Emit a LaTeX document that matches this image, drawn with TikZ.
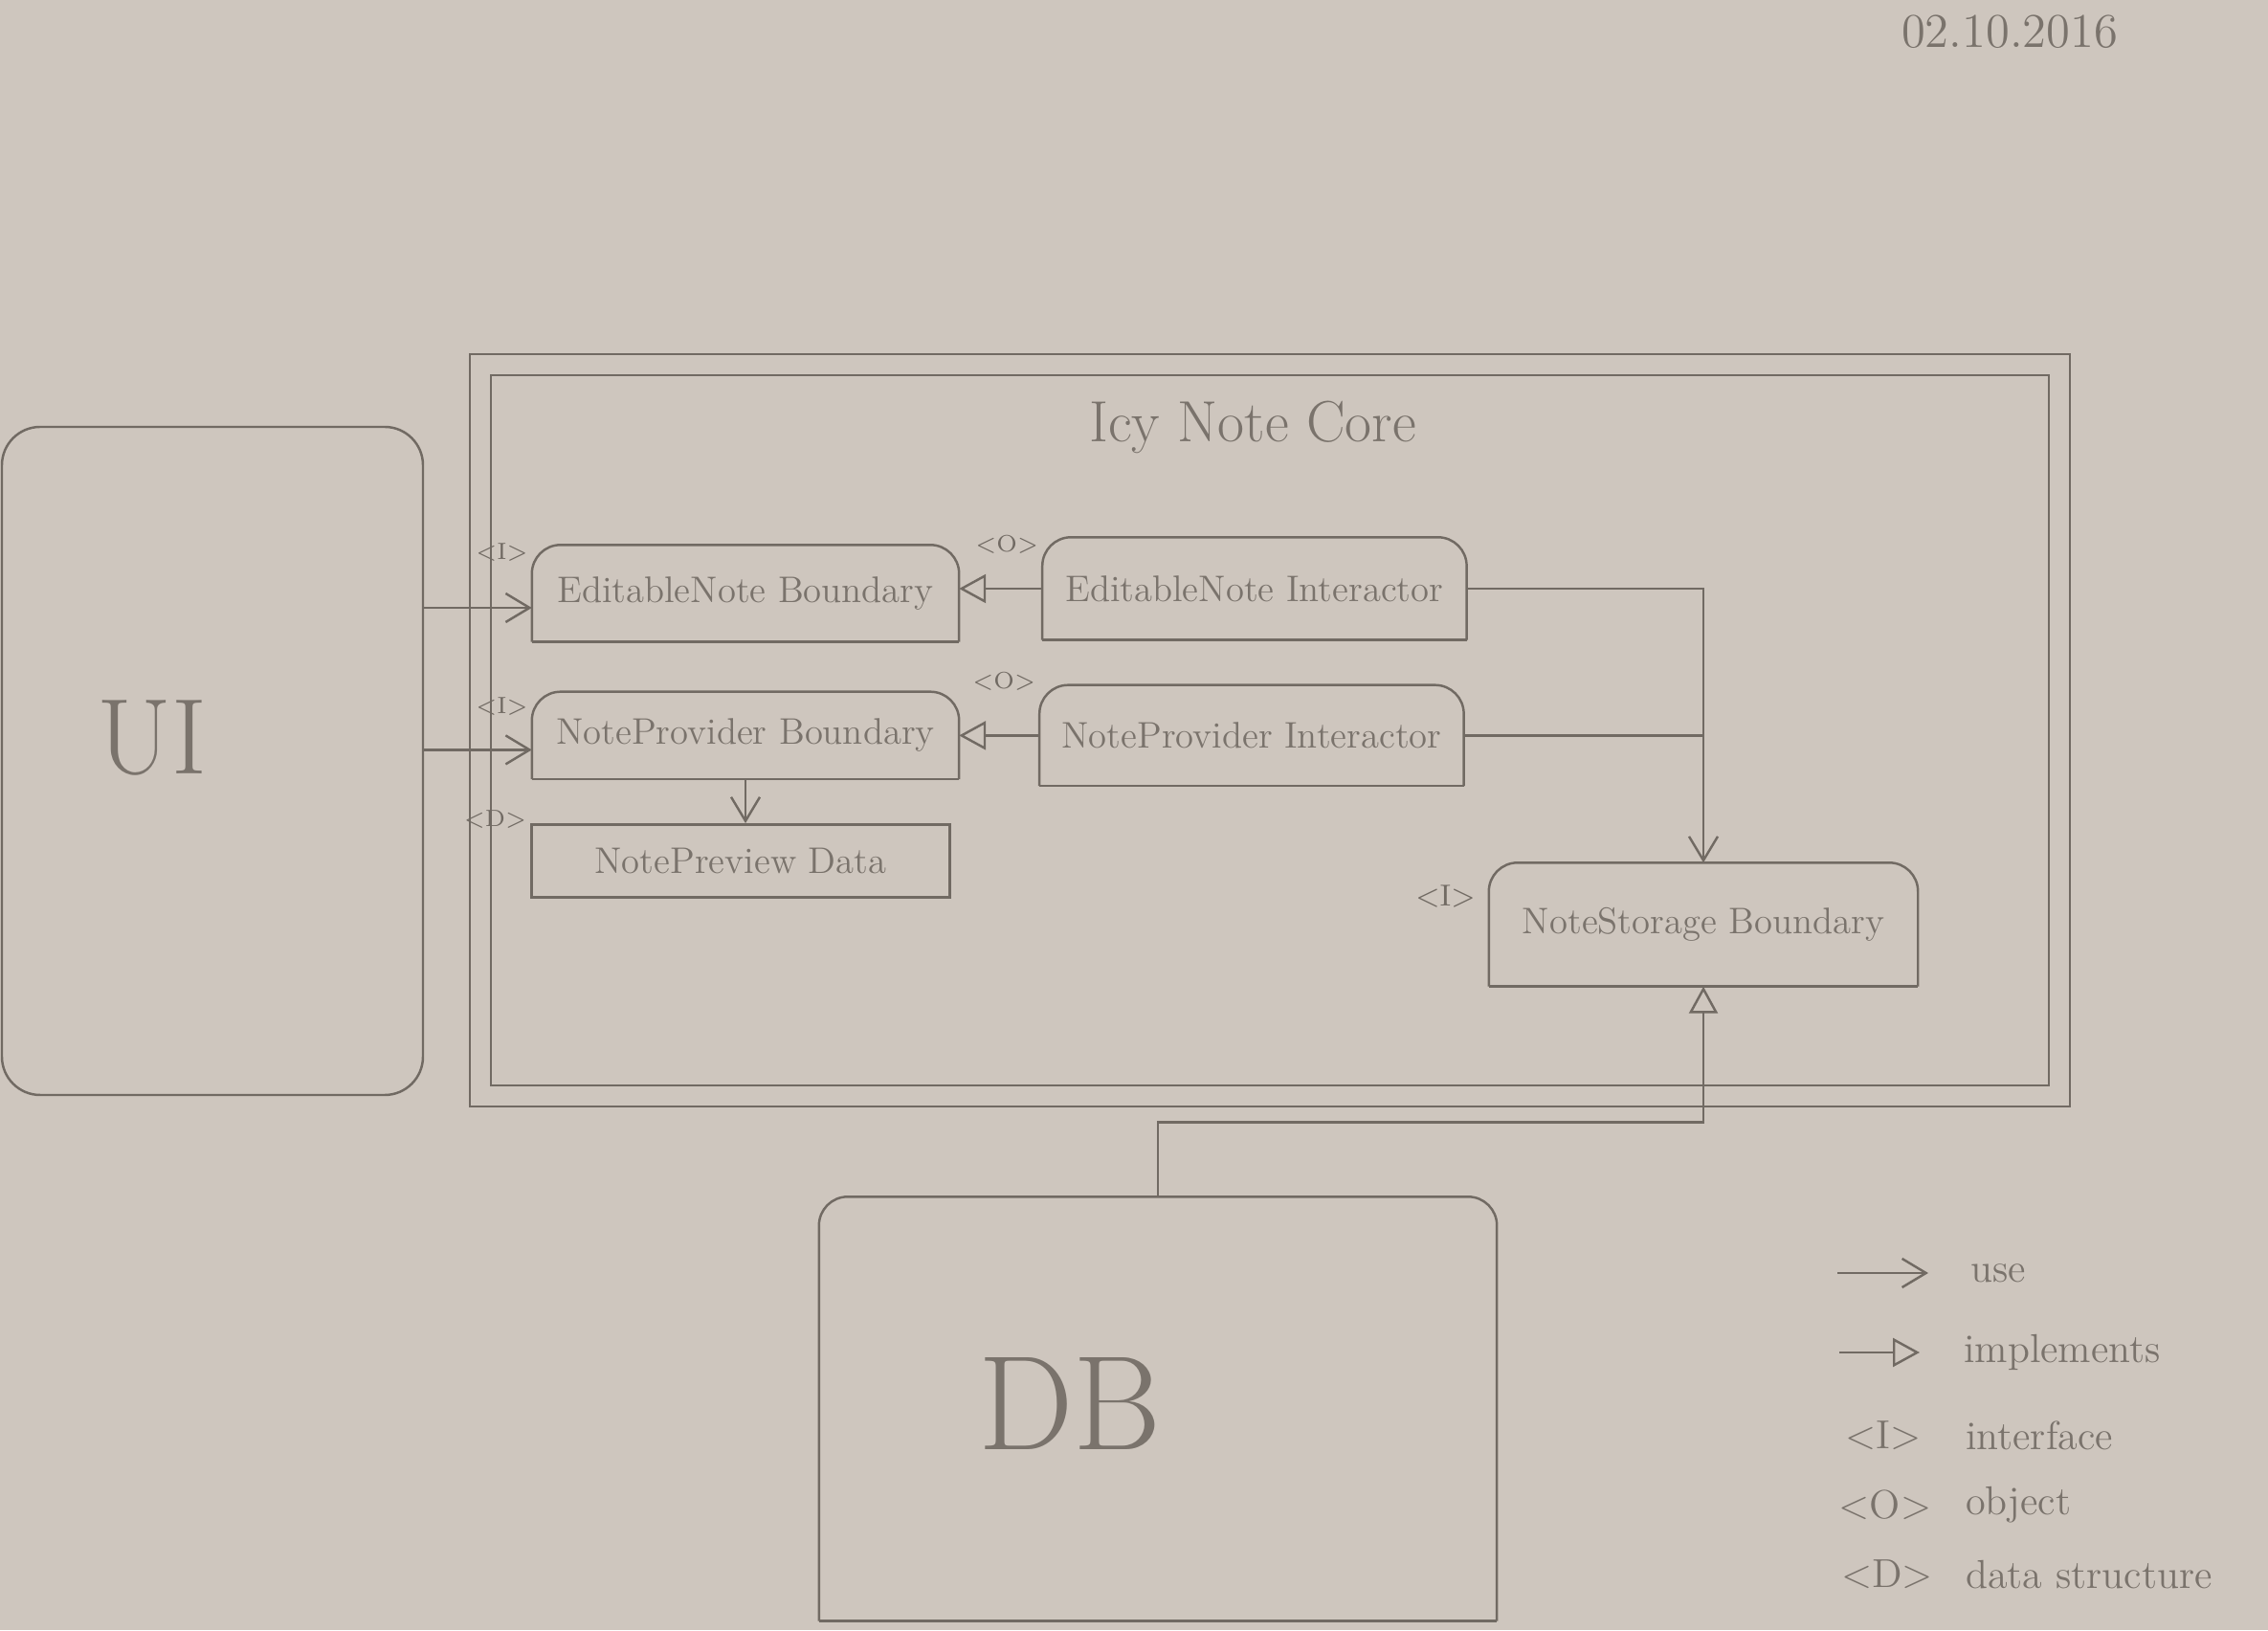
\documentclass[tikz,border=0pt]{standalone}
\usepackage{xcolor}
\usepackage{tikz}
\usetikzlibrary{
  arrows.meta,
  positioning,
  calc
}
\definecolor{icPaper}{HTML}{CEC6BE}
\definecolor{icPencil}{HTML}{716A63}
\definecolor{icText}{HTML}{7A736C}
\tikzset{
  icline/.style={draw=icPencil, line width=0.7pt},
  icnode/.style={
    minimum width=44mm, minimum height=10mm, inner sep=0pt,
    font=\fontsize{11}{13}\selectfont, text=icText, align=center
  },
  icbox/.style={icnode,
    append after command={\pgfextra{
      \draw[icline, rounded corners=3mm] (\tikzlastnode.south west) -- (\tikzlastnode.north west)
        -- (\tikzlastnode.north east) -- (\tikzlastnode.south east);
      \draw[icline] (\tikzlastnode.south west) -- (\tikzlastnode.south east);}}
  },
  icdata/.style={icnode, icline},
  icside/.style={icline, rounded corners=4mm, text=icText},
  corebox/.style={icline, double=icPaper, double distance=2mm},
  stereo/.style={font=\scriptsize, text=icPencil, inner sep=1pt},
  usearrow/.style={icline, -{Straight Barb[length=2.5mm, width=3mm]}},
  implarrow/.style={icline, -{Triangle[open, length=2.8mm, width=3mm]}},
  legend/.style={font=\large, text=icText, inner sep=1pt}
}
\begin{document}
\begin{tikzpicture}
  \fill[icPaper] (0,0) rectangle (23.7,17.03);
  \useasboundingbox (0,0) rectangle (23.7,17.03);

  % date
  \node[legend, font=\Large] (date) at (21.0,16.70) {02.10.2016};

  % outside parts
  \node[icside, draw, minimum width=44mm, minimum height=69.8mm] (ui) at (2.22,9.08) {};
  \node[text=icText, font=\fontsize{32}{36}\selectfont] (uilbl) at (1.59,9.32) {UI};
  \node[icbox, minimum width=70.7mm, minimum height=44.2mm] (db) at (12.10,2.31) {};
  \node[text=icText, font=\fontsize{40}{44}\selectfont] (dblbl) at (11.18,2.37) {DB};

  % core
  \node[corebox, minimum width=165mm, minimum height=76.4mm] (core) at (13.27,9.40) {};
  \node[text=icText, font=\LARGE] (coretitle) at (13.09,12.57) {Icy Note Core};

  \node[icbox, minimum width=44.5mm, minimum height=10mm] (ebnd) at (7.79,10.83) {EditableNote Boundary};
  \node[icbox, minimum width=44.2mm, minimum height=10.6mm, right=8.7mm of ebnd, yshift=0.5mm] (eint) {EditableNote Interactor};
  \node[icbox, minimum width=44.5mm, minimum height=9mm, below=5.2mm of ebnd] (npbnd) {NoteProvider Boundary};
  \node[icbox, minimum width=44.2mm, minimum height=10.4mm, right=8.4mm of npbnd] (npint) {NoteProvider Interactor};
  \node[icdata, minimum width=43.7mm, minimum height=7.6mm, below=4.6mm of npbnd, xshift=-0.5mm] (npdata) {NotePreview Data};
  \node[icbox, minimum width=44.7mm, minimum height=12.8mm] (nstor) at (17.80,7.37) {NoteStorage Boundary};

  \node[stereo, left=0pt of ebnd.north west, yshift=-0.8mm] (ebndst) {<I>};
  \node[stereo, left=0pt of eint.north west, yshift=-0.8mm] (eintst) {<O>};
  \node[stereo, left=0pt of npbnd.north west, yshift=-1.5mm] (npbndst) {<I>};
  \node[stereo, left=0pt of npint.north west, yshift=0.4mm] (npintst) {<O>};
  \node[stereo, left=0pt of npdata.north west, yshift=0.4mm] (npdatast) {<D>};
  \node[stereo, font=\small, left=1mm of nstor.north west, yshift=-3.5mm] (nstorst) {<I>};

  % connectors
  \draw[usearrow] ($(ui.east |- ebnd.west)+(0,-0.15)$) -- ($(ebnd.west)+(0,-0.15)$);
  \draw[usearrow] ($(ui.east |- npbnd.west)+(0,-0.15)$) -- ($(npbnd.west)+(0,-0.15)$);
  \draw[implarrow] (eint.west) -- (eint.west -| ebnd.east);
  \draw[implarrow] (npint.west) -- (npint.west -| npbnd.east);
  \draw[usearrow] (npbnd.south) -- (npbnd.south |- npdata.north);
  \draw[usearrow] (eint.east) -| (nstor.north);
  \draw[icline] (npint.east) -- (npint.east -| nstor.north);
  \draw[implarrow] (db.north) -- ++(0,0.78) -| (nstor.south);

  % legend
  \coordinate (lgusea) at (19.20,3.73);
  \coordinate (lguseb) at (20.15,3.73);
  \coordinate (lgimpla) at (19.22,2.90);
  \coordinate (lgimplb) at (20.06,2.90);
  \draw[usearrow] (lgusea) -- (lguseb);
  \draw[implarrow] (lgimpla) -- (lgimplb);
  \node[legend, anchor=west] (lguse) at (20.55,3.73) {use};
  \node[legend, anchor=west] (lgimpl) at (20.48,2.90) {implements};
  \node[legend] (lgi) at (19.68,2.03) {<I>};
  \node[legend, anchor=west] (lgitxt) at (20.50,2.03) {interface};
  \node[legend] (lgo) at (19.70,1.31) {<O>};
  \node[legend, anchor=west] (lgotxt) at (20.50,1.31) {object};
  \node[legend] (lgd) at (19.72,0.58) {<D>};
  \node[legend, anchor=west] (lgdtxt) at (20.50,0.58) {data structure};
\end{tikzpicture}
\end{document}
